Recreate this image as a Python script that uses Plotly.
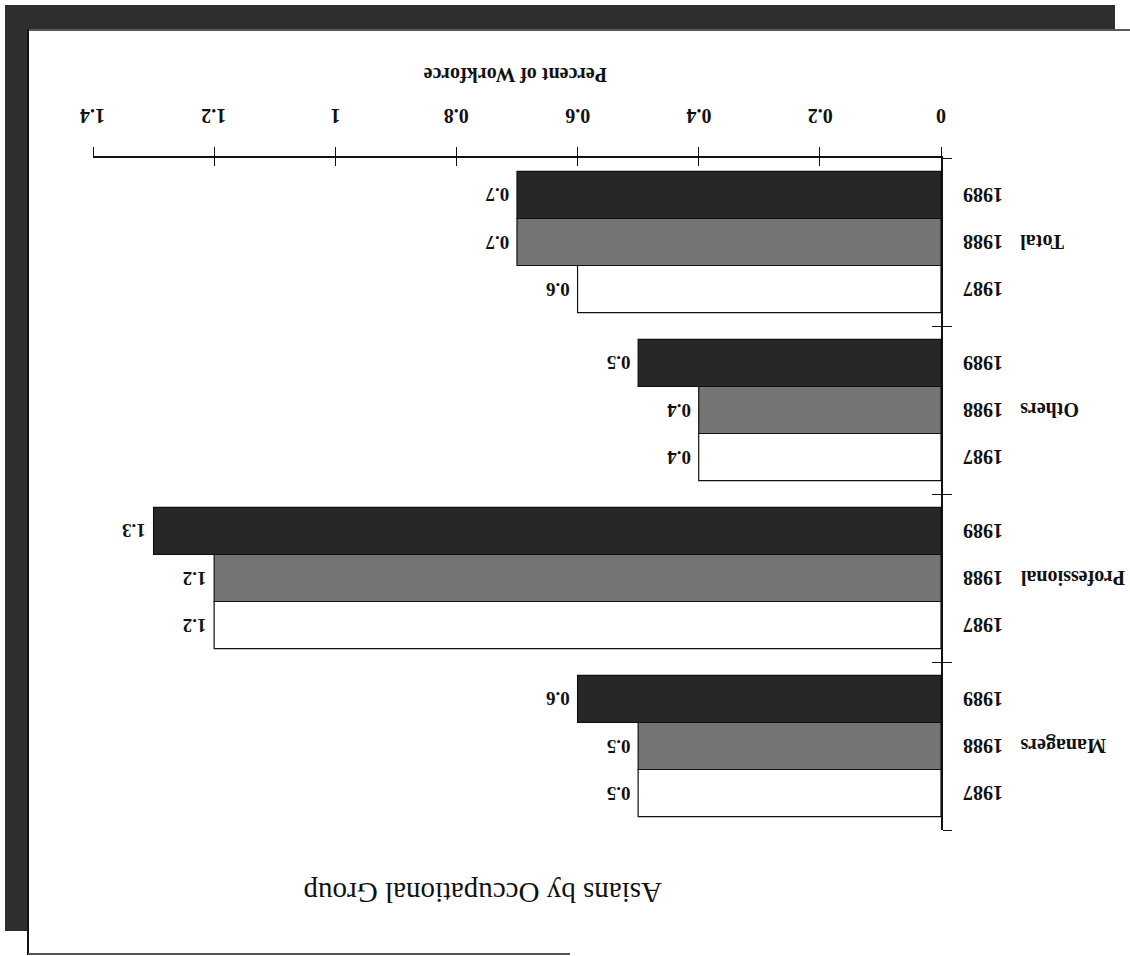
import plotly.graph_objects as go

# ---- data ----
groups = ["Managers", "Professional", "Others", "Total"]
years = ["1987", "1988", "1989"]
pct_1987 = [0.5, 1.2, 0.4, 0.6]
pct_1988 = [0.5, 1.2, 0.4, 0.7]
pct_1989 = [0.6, 1.3, 0.5, 0.7]
x_ticks = [0, 0.2, 0.4, 0.6, 0.8, 1.0, 1.2, 1.4]
x_tick_text = ["0", "0.2", "0.4", "0.6", "0.8", "1", "1.2", "1.4"]

series = [pct_1987, pct_1988, pct_1989]
fills = ["#ffffff", "#757575", "#272727"]

# ---- page geometry (pixels) ----
W, H = 1130, 956
L, R, T, B = 93, 941, 158, 830
BARGAP = 0.16

def px_x(p):
    return (p - L) / (R - L)

def px_y(p):
    return (B - p) / (B - T)

SERIF = "Liberation Serif"
INK = "#111111"
LABEL_FONT = dict(family=SERIF, size=20, color=INK, weight="bold")

fig = go.Figure()

for yr, vals, col in zip(years, series, fills):
    fig.add_trace(go.Bar(
        y=groups, x=vals, name=yr, orientation="h",
        marker=dict(color=col, line=dict(color=INK, width=1.2)),
        text=[f"\u00a0{v:g}" for v in vals], texttemplate="%{text}",
        textposition="outside", textangle=180,
        textfont=dict(family=SERIF, size=19, color=INK, weight="bold"),
        cliponaxis=False, showlegend=False,
    ))

# helper traces so the crossing-tick overlay axes get drawn
fig.add_trace(go.Scatter(x=[], y=[], xaxis="x2", yaxis="y", showlegend=False))
fig.add_trace(go.Scatter(x=[], y=[], xaxis="x", yaxis="y2", showlegend=False))

ann = []
# value-axis tick labels, turned upside down
for v, t in zip(x_ticks, x_tick_text):
    ann.append(dict(
        x=v, xref="x", y=px_y(116), yref="paper",
        xanchor="center", yanchor="middle",
        text=t, textangle=180, showarrow=False, font=LABEL_FONT,
    ))

# year labels beside every bar, group labels beside the middle bar
bar_px = (B - T) / len(groups) * (1 - BARGAP) / len(years)
for g in groups:
    for k, yr in enumerate(years):
        ann.append(dict(
            x=px_x(961), xref="paper", y=g, yref="y",
            yshift=(k - 1) * bar_px, xanchor="left", yanchor="middle",
            text=yr, textangle=180, showarrow=False, font=LABEL_FONT,
        ))
    ann.append(dict(
        x=px_x(1018), xref="paper", y=g, yref="y",
        xanchor="left", yanchor="middle",
        text=g, textangle=180, showarrow=False, font=LABEL_FONT,
    ))

# axis title and chart title
ann.append(dict(
    x=px_x(516), xref="paper", y=px_y(75), yref="paper",
    xanchor="center", yanchor="middle",
    text="Percent of Workforce", textangle=180, showarrow=False,
    font=dict(family=SERIF, size=20, color=INK, weight="bold"),
))
ann.append(dict(
    x=px_x(483), xref="paper", y=px_y(893), yref="paper",
    xanchor="center", yanchor="middle",
    text="Asians by Occupational Group", textangle=180, showarrow=False,
    font=dict(family=SERIF, size=29, color=INK),
))

# page frame with its drop shadow
shade = "#2e2e2e"
shapes = [
    dict(type="rect", xref="paper", yref="paper",
         x0=px_x(5), x1=px_x(1115), y0=px_y(5), y1=px_y(29),
         fillcolor=shade, line=dict(width=0), layer="below"),
    dict(type="rect", xref="paper", yref="paper",
         x0=px_x(5), x1=px_x(27), y0=px_y(5), y1=px_y(931),
         fillcolor=shade, line=dict(width=0), layer="below"),
    dict(type="line", xref="paper", yref="paper",
         x0=px_x(28), x1=px_x(28), y0=px_y(29), y1=px_y(955),
         line=dict(color=INK, width=2)),
    dict(type="line", xref="paper", yref="paper",
         x0=px_x(28), x1=px_x(1130), y0=px_y(30), y1=px_y(30),
         line=dict(color="#222222", width=1.5)),
    dict(type="line", xref="paper", yref="paper",
         x0=px_x(28), x1=px_x(570), y0=px_y(954), y1=px_y(954),
         line=dict(color="#555555", width=2)),
]

fig.update_layout(
    width=W, height=H,
    margin=dict(l=L, r=W - R, t=T, b=H - B, pad=0),
    paper_bgcolor="white", plot_bgcolor="white",
    barmode="group", bargap=BARGAP, bargroupgap=0,
    annotations=ann, shapes=shapes,
    xaxis=dict(
        range=[1.4, 0], side="top", tickvals=x_ticks,
        ticks="outside", ticklen=9, tickwidth=1.4, tickcolor=INK,
        showticklabels=False,
        showline=True, linecolor=INK, linewidth=1.5,
        showgrid=False, zeroline=False,
    ),
    xaxis2=dict(
        range=[1.4, 0], overlaying="x", side="top", anchor="y",
        tickvals=x_ticks, ticks="inside", ticklen=8, tickwidth=1.4, tickcolor=INK,
        showticklabels=False, showline=False, showgrid=False, zeroline=False,
    ),
    yaxis=dict(
        type="category", categoryorder="array", categoryarray=groups,
        range=[-0.5, len(groups) - 0.5], side="right",
        showline=True, linecolor=INK, linewidth=1.5,
        ticks="outside", tickson="boundaries", ticklen=9, tickwidth=1.4, tickcolor=INK,
        showticklabels=False, showgrid=False, zeroline=False,
    ),
    yaxis2=dict(
        range=[-0.5, len(groups) - 0.5], overlaying="y", side="right", anchor="x",
        tickvals=[i - 0.5 for i in range(len(groups) + 1)],
        ticks="inside", ticklen=9, tickwidth=1.4, tickcolor=INK,
        showticklabels=False, showline=False, showgrid=False, zeroline=False,
    ),
)

fig.write_html("out.html")
